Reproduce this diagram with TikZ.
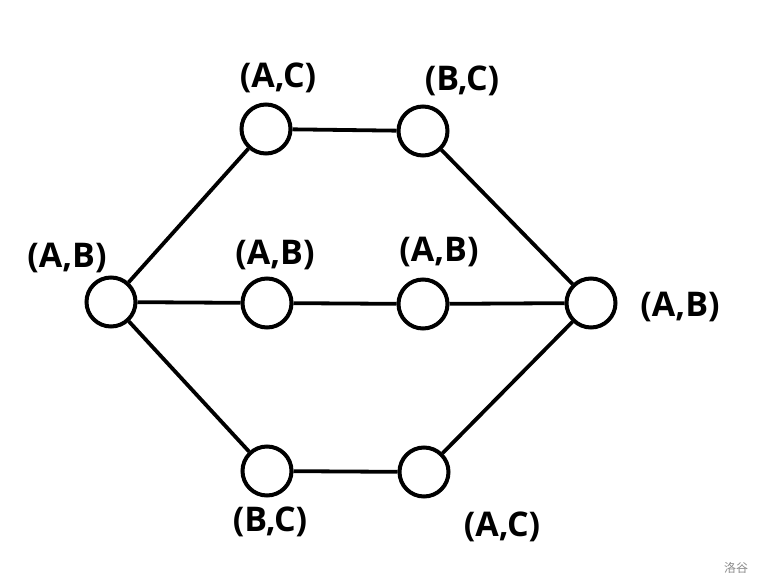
\documentclass[tikz,border=0pt]{standalone}
\usepackage{fontspec}
\setmainfont{Open Sans}
\newfontfamily\cjk{Noto Sans CJK SC}
\begin{document}
\begin{tikzpicture}[x=1pt,y=-1pt,
  vert/.style={circle,draw=black,line width=4pt,minimum size=49pt,inner sep=0pt,fill=white},
  lbl/.style={font=\fontsize{34}{40}\selectfont\bfseries,inner sep=0pt},
  edge/.style={line width=3.8pt,draw=black}]
\useasboundingbox[fill=white] (0,0) rectangle (763,588);
\node[vert] (L) at (111,302) {};
\node[vert] (T1) at (266,129) {};
\node[vert] (T2) at (423,131) {};
\node[vert] (M1) at (267,303) {};
\node[vert] (M2) at (423,304) {};
\node[vert] (R) at (591,303) {};
\node[vert] (B1) at (267,471) {};
\node[vert] (B2) at (424,472) {};
\draw[edge] (L) -- (T1);
\draw[edge] (T1) -- (T2);
\draw[edge] (T2) -- (R);
\draw[edge] (L) -- (M1);
\draw[edge] (M1) -- (M2);
\draw[edge] (M2) -- (R);
\draw[edge] (L) -- (B1);
\draw[edge] (B1) -- (B2);
\draw[edge] (B2) -- (R);
\node[lbl] (lT1) at (278,78) {(A,C)};
\node[lbl] (lT2) at (462,81) {(B,C)};
\node[lbl] (lL) at (67,258) {(A,B)};
\node[lbl] (lM1) at (275,255) {(A,B)};
\node[lbl] (lM2) at (439,252) {(A,B)};
\node[lbl] (lR) at (680,307) {(A,B)};
\node[lbl] (lB1) at (270,522) {(B,C)};
\node[lbl] (lB2) at (502,527) {(A,C)};
\node[font=\cjk\fontsize{12}{14}\selectfont,text=black!45,inner sep=0pt] (wm) at (736,568) {洛谷};
\end{tikzpicture}
\end{document}
